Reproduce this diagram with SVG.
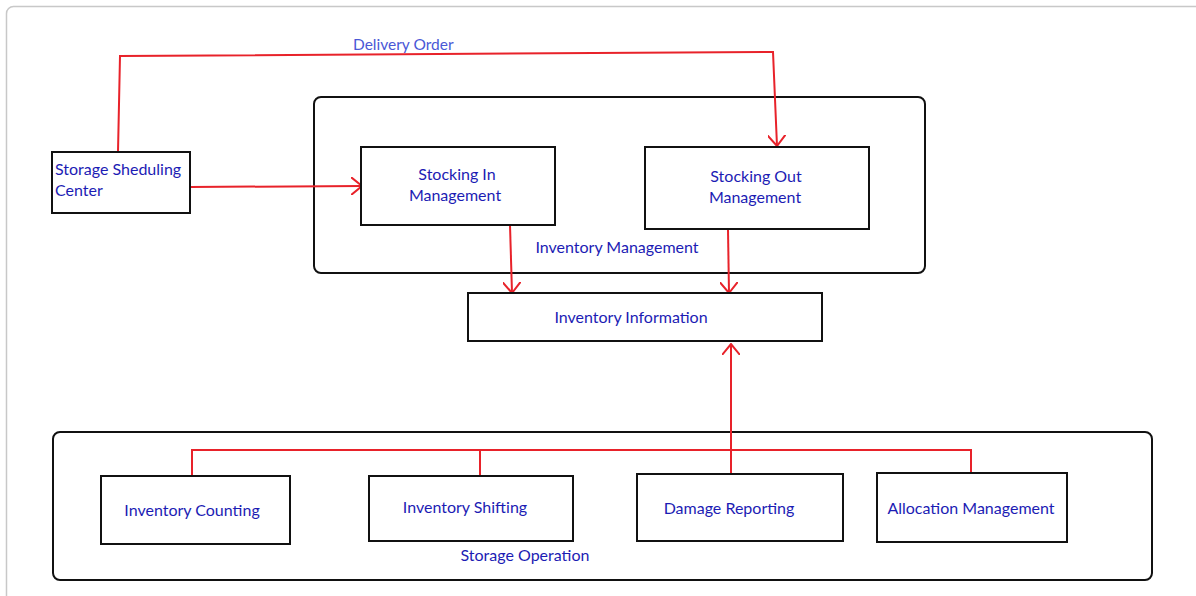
<svg xmlns="http://www.w3.org/2000/svg" width="1196" height="596" viewBox="0 0 1196 596">
<style>
.frame{fill:none;stroke:#c8c8c8;stroke-width:1.5}
.box{fill:#fff;stroke:#111;stroke-width:2}
.grp{fill:none;stroke:#111;stroke-width:2}
.t{font-family:Lato,"Open Sans","Liberation Sans",sans-serif;font-size:16px;fill:#1c1cb4}
.lbl{font-family:Lato,"Open Sans","Liberation Sans",sans-serif;font-size:15.5px;fill:#4a58d6}
.c{text-anchor:middle}
.wire{fill:none;stroke:#e8222a;stroke-width:2;stroke-linejoin:miter}
</style>
<defs>
<marker id="ah" markerUnits="userSpaceOnUse" viewBox="0 0 12 18" refX="11" refY="9" markerWidth="12" markerHeight="18" orient="auto">
<path d="M0,0 L11,9 L0,18" fill="none" stroke="#e8222a" stroke-width="2"/>
</marker>
</defs>
<rect width="1196" height="596" fill="#fff"/>
<rect class="frame" x="6.5" y="6.5" width="1220" height="620" rx="7"/>

<g id="inventory-management">
<rect class="grp" x="314" y="97" width="611" height="176" rx="7"/>
<text class="t c" x="617" y="253">Inventory Management</text>
</g>
<g id="storage-operation">
<rect class="grp" x="53" y="432" width="1099" height="148" rx="7"/>
<text class="t c" x="525" y="561">Storage Operation</text>
</g>

<g id="connectors">
<polyline class="wire" points="118,152 120,56 773,52 777,146" marker-end="url(#ah)"/>
<line class="wire" x1="190" y1="187" x2="362" y2="186" marker-end="url(#ah)"/>
<line class="wire" x1="510" y1="225" x2="512" y2="293" marker-end="url(#ah)"/>
<line class="wire" x1="728" y1="229" x2="729" y2="293" marker-end="url(#ah)"/>
<polyline class="wire" points="192,476 192,450 971,450 971,473"/>
<line class="wire" x1="480" y1="450" x2="480" y2="476"/>
<line class="wire" x1="731" y1="475" x2="731" y2="344" marker-end="url(#ah)"/>
<text class="lbl" x="353" y="50">Delivery Order</text>
</g>

<g id="storage-scheduling-center">
<rect class="box" x="52" y="152" width="138" height="61"/>
<text class="t" x="55" y="175">Storage Sheduling</text>
<text class="t" x="55" y="196">Center</text>
</g>
<g id="stocking-in">
<rect class="box" x="361" y="147" width="194" height="78"/>
<text class="t c" x="457" y="180">Stocking In</text>
<text class="t c" x="455" y="201">Management</text>
</g>
<g id="stocking-out">
<rect class="box" x="645" y="147" width="224" height="82"/>
<text class="t c" x="756" y="182">Stocking Out</text>
<text class="t c" x="755" y="203">Management</text>
</g>
<g id="inventory-information">
<rect class="box" x="468" y="293" width="354" height="48"/>
<text class="t c" x="631" y="323">Inventory Information</text>
</g>
<g id="inventory-counting">
<rect class="box" x="101" y="476" width="189" height="68"/>
<text class="t c" x="192" y="516">Inventory Counting</text>
</g>
<g id="inventory-shifting">
<rect class="box" x="369" y="476" width="204" height="65"/>
<text class="t c" x="465" y="513">Inventory Shifting</text>
</g>
<g id="damage-reporting">
<rect class="box" x="637" y="474" width="206" height="67"/>
<text class="t c" x="729" y="514">Damage Reporting</text>
</g>
<g id="allocation-management">
<rect class="box" x="877" y="473" width="190" height="69"/>
<text class="t c" x="971" y="514">Allocation Management</text>
</g>
</svg>
